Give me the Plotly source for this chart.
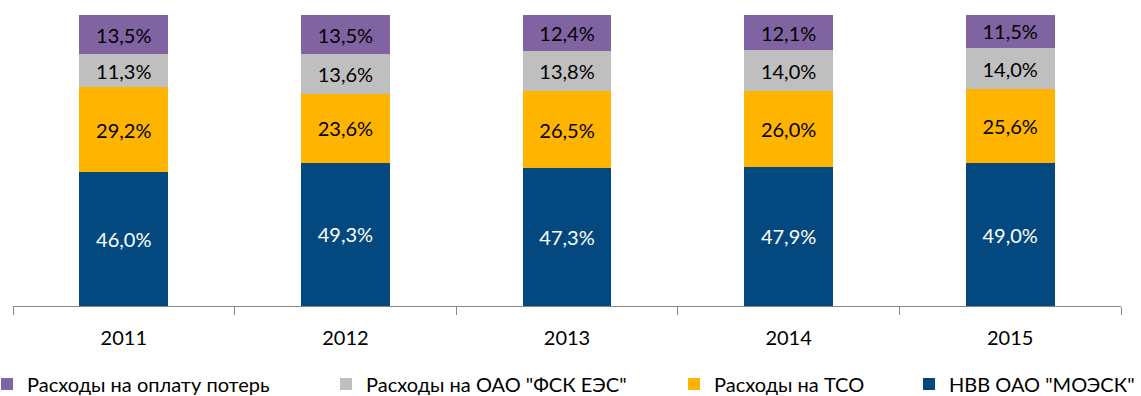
import plotly.graph_objects as go

years = ["2011", "2012", "2013", "2014", "2015"]
nvv_moesk = [46.0, 49.3, 47.3, 47.9, 49.0]
tso_costs = [29.2, 23.6, 26.5, 26.0, 25.6]
fsk_costs = [11.3, 13.6, 13.8, 14.0, 14.0]
loss_costs = [13.5, 13.5, 12.4, 12.1, 11.5]

# name, values, fill, label colour, legend id, left edge of legend text (px)
series = [
    ("НВВ ОАО \"МОЭСК\"", nvv_moesk, "#03497F", "white", "legend4", 949),
    ("Расходы на ТСО", tso_costs, "#FFB400", "black", "legend3", 714),
    ("Расходы на ОАО \"ФСК ЕЭС\"", fsk_costs, "#BFBFBF", "black", "legend2", 366),
    ("Расходы на оплату потерь", loss_costs, "#8064A2", "black", "legend", 27),
]

FONT = "Lato, 'Open Sans', sans-serif"
W, H = 1141, 396
PLOT_L, PLOT_R, PLOT_T, PLOT_B = 13, 1121, 15, 306
INDENT = -13

fig = go.Figure()
for name, vals, color, tcolor, leg, _ in series:
    fig.add_trace(go.Bar(
        x=years, y=vals, name=name, legend=leg,
        marker=dict(color=color, line=dict(width=0)),
        texttemplate="%{y:.1f}%", textposition="inside",
        insidetextanchor="middle", textangle=0,
        textfont=dict(color=tcolor, size=20, family=FONT),
        hoverinfo="skip",
    ))

legend_common = dict(
    orientation="h", yanchor="middle", xanchor="left",
    xref="container", yref="container", y=1 - 384 / H,
    font=dict(size=20, family=FONT, color="black"),
    bgcolor="rgba(0,0,0,0)", itemwidth=30, indentation=INDENT,
)
legends = {}
for name, vals, color, tcolor, leg, px in series:
    legends[leg] = dict(legend_common, x=max(px - 40 - INDENT, 0) / W)

fig.update_layout(
    width=W, height=H,
    margin=dict(l=PLOT_L, r=W - PLOT_R, t=PLOT_T, b=H - PLOT_B, autoexpand=False),
    barmode="stack", bargap=0.6,
    separators=", ",
    paper_bgcolor="white", plot_bgcolor="white",
    font=dict(family=FONT, color="black"),
    showlegend=True,
    xaxis=dict(
        type="category", range=[-0.5, 4.5],
        showline=True, linecolor="#868686", linewidth=1,
        ticks="outside", tickson="boundaries", ticklen=8, tickcolor="#868686",
        ticklabelstandoff=14,
        tickfont=dict(size=20, family=FONT, color="black"),
        showgrid=False,
    ),
    yaxis=dict(range=[0, 100], visible=False, showgrid=False),
    **legends,
)

fig.write_html("out.html")
